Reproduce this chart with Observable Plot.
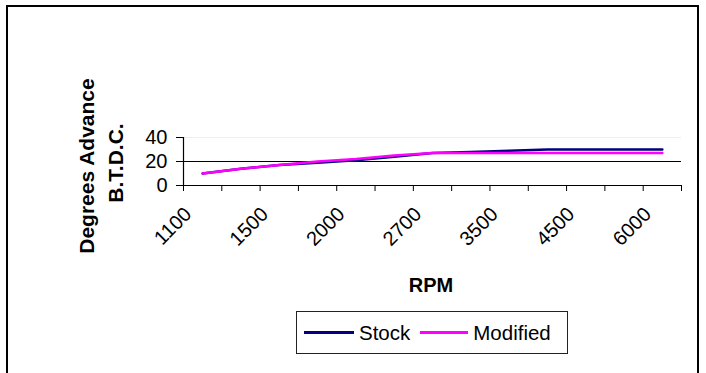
<!DOCTYPE html>
<html>
<head>
<meta charset="utf-8">
<script src="https://cdn.jsdelivr.net/npm/d3@7"></script>
<script src="https://cdn.jsdelivr.net/npm/@observablehq/plot@0.6"></script>
<style>
  html, body { margin: 0; padding: 0; background: #fff; overflow: hidden; }
  #chart { position: relative; width: 706px; height: 373px; font-family: "Liberation Sans", Arial, sans-serif; color: #000; }
  #frame { position: absolute; left: 6px; top: 5px; width: 693px; height: 420px; border: 2px solid #000; box-sizing: border-box; }
  #plot { position: absolute; left: 0; top: 0; }
  .ytitle { position: absolute; font-weight: bold; font-size: 21px; white-space: nowrap; transform: translate(-50%, -50%) rotate(-90deg); line-height: 1; }
  #xtitle { position: absolute; left: 431px; top: 285px; transform: translate(-50%, -50%); font-weight: bold; font-size: 20px; line-height: 1; }
  #legend { position: absolute; left: 296px; top: 311px; width: 272px; height: 43px; box-sizing: border-box; border: 1px solid #222; display: flex; align-items: center; padding-left: 7px; font-size: 20.5px; }
  #legend .sw { display: inline-block; height: 2.5px; }
</style>
</head>
<body>
<div id="chart">
  <div id="frame"></div>
  <div id="plot"></div>
  <div class="ytitle" style="left:86px; top:166px">Degrees Advance</div>
  <div class="ytitle" style="left:115px; top:163px">B.T.D.C.</div>
  <div id="xtitle">RPM</div>
  <div id="legend"></div>
</div>
<script>
// Ignition advance (degrees before top dead centre) at each RPM step
const rpmLabels = ["1100", "1500", "2000", "2700", "3500", "4500", "6000"]; // every other step is labelled
const stock    = [10, 14, 17, 19, 21, 24, 27, 28, 29, 30, 30, 30, 30];
const modified = [10, 14, 17, 20, 22, 25, 27, 27, 27, 27, 27, 27, 27];
const yTicks = [0, 20, 40];

const seriesNames = ["Stock", "Modified"];
const seriesColors = ["#000080", "#ff00ff"];

const steps = stock.length;
const boundaries = d3.range(steps + 1);

const chart = Plot.plot({
  width: 706,
  height: 373,
  marginLeft: 183,
  marginRight: 25,
  marginTop: 137,
  marginBottom: 188,
  style: { fontFamily: "'Liberation Sans', Arial, sans-serif", fontSize: "20px", color: "#000", background: "transparent", overflow: "visible" },
  x: { domain: [0, steps], axis: null },
  y: { domain: [0, 40], axis: null },
  marks: [
    Plot.ruleY([40], { stroke: "#eeeeee", strokeWidth: 1 }),
    Plot.ruleY([20], { stroke: "#000", strokeWidth: 1 }),
    Plot.ruleY([0], { stroke: "#000", strokeWidth: 1.2 }),
    Plot.ruleX([0], { stroke: "#000", strokeWidth: 1.2 }),
    Plot.axisY(yTicks, { tickSize: 7, tickPadding: 9, fontSize: 20, label: null, stroke: "#000" }),
    Plot.axisX(boundaries, { tickSize: 6, tickFormat: () => "", label: null, stroke: "#000" }),
    Plot.text(rpmLabels, {
      x: (d, i) => 2 * i + 0.5,
      frameAnchor: "bottom",
      rotate: -45,
      textAnchor: "end",
      lineAnchor: "bottom",
      dx: -10,
      dy: 30,
      fontSize: 20
    }),
    Plot.lineY(stock, { x: (d, i) => i + 0.5, y: d => d, stroke: seriesColors[0], strokeWidth: 2.5 }),
    Plot.lineY(modified, { x: (d, i) => i + 0.5, y: d => d, stroke: seriesColors[1], strokeWidth: 2.5 })
  ]
});
document.getElementById("plot").appendChild(chart);

// Legend: line swatch followed by series name
const legend = document.getElementById("legend");
seriesNames.forEach((name, i) => {
  const sw = document.createElement("span");
  sw.className = "sw";
  sw.style.width = (i === 0 ? 50 : 48) + "px";
  sw.style.background = seriesColors[i];
  sw.style.marginLeft = i === 0 ? "0" : "10px";
  sw.style.marginRight = "5px";
  const label = document.createElement("span");
  label.textContent = name;
  legend.appendChild(sw);
  legend.appendChild(label);
});
</script>
</body>
</html>
